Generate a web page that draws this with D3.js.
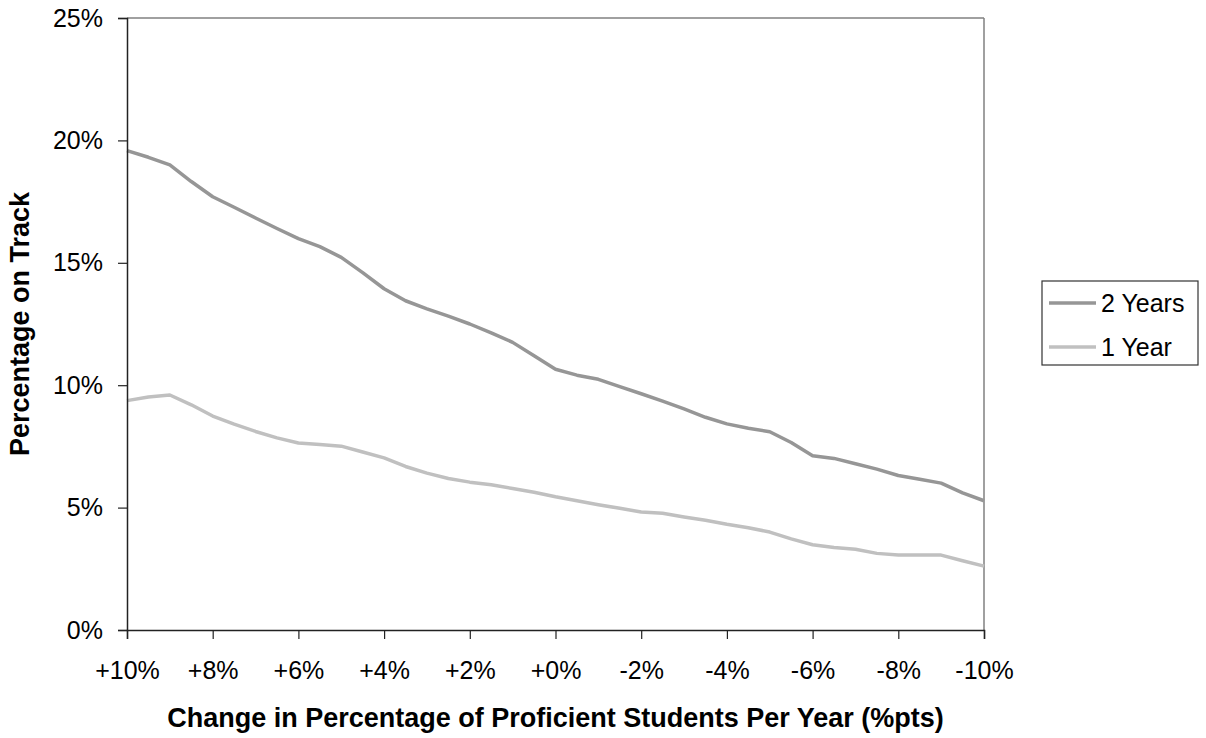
<!DOCTYPE html>
<html>
<head>
<meta charset="utf-8">
<script src="https://cdn.jsdelivr.net/npm/d3@7"></script>
<style>
  html, body { margin: 0; padding: 0; background: #fff; }
  svg { display: block; font-family: "Liberation Sans", Arial, sans-serif; }
</style>
</head>
<body>
<svg id="chart" width="1206" height="738"></svg>
<script>
// ---- data ----
const xValues = [10, 9.5, 9, 8.5, 8, 7.5, 7, 6.5, 6, 5.5, 5, 4.5, 4, 3.5, 3, 2.5, 2, 1.5, 1, 0.5, 0,
  -0.5, -1, -1.5, -2, -2.5, -3, -3.5, -4, -4.5, -5, -5.5, -6, -6.5, -7, -7.5, -8, -8.5, -9, -9.5, -10];
const twoYears = [19.58, 19.31, 19.0, 18.32, 17.7, 17.27, 16.83, 16.4, 15.99, 15.66, 15.22, 14.6, 13.94, 13.45,
  13.12, 12.82, 12.5, 12.14, 11.75, 11.2, 10.65, 10.41, 10.24, 9.94, 9.65, 9.35, 9.03, 8.69, 8.42, 8.24,
  8.10, 7.66, 7.12, 7.01, 6.79, 6.57, 6.31, 6.16, 6.0, 5.6, 5.28];
const oneYear = [9.37, 9.52, 9.6, 9.2, 8.74, 8.41, 8.11, 7.85, 7.64, 7.58, 7.51, 7.27, 7.03, 6.68, 6.41, 6.19,
  6.04, 5.93, 5.78, 5.63, 5.44, 5.28, 5.12, 4.97, 4.82, 4.77, 4.62, 4.48, 4.32, 4.18, 4.0, 3.72, 3.48,
  3.37, 3.30, 3.13, 3.06, 3.06, 3.06, 2.83, 2.61];
const seriesNames = ["2 Years", "1 Year"];
const xTicks = [10, 8, 6, 4, 2, 0, -2, -4, -6, -8, -10];
const xTickLabels = ["+10%", "+8%", "+6%", "+4%", "+2%", "+0%", "-2%", "-4%", "-6%", "-8%", "-10%"];
const yTicks = [0, 5, 10, 15, 20, 25];
const yTickLabels = ["0%", "5%", "10%", "15%", "20%", "25%"];
const xTitle = "Change in Percentage of Proficient Students Per Year (%pts)";
const yTitle = "Percentage on Track";

// ---- layout ----
const L = 127, R = 984, T = 18, B = 630;
const colors = ["#969696", "#c0c0c0"];
const svg = d3.select("#chart");

const x = d3.scaleLinear().domain([10, -10]).range([L, R]);
const y = d3.scaleLinear().domain([0, 25]).range([B, T]);

// plot border (top & right gray)
svg.append("line").attr("x1", L).attr("x2", R).attr("y1", T).attr("y2", T)
  .attr("stroke", "#808080").attr("stroke-width", 1.5);
svg.append("line").attr("x1", R).attr("x2", R).attr("y1", T).attr("y2", B)
  .attr("stroke", "#808080").attr("stroke-width", 1.5);

// lines
const series = [twoYears, oneYear];
const lineGen = d3.line().x((d, i) => x(xValues[i])).y(d => y(d));
series.forEach((s, k) => {
  svg.append("path").datum(s).attr("d", lineGen)
    .attr("fill", "none").attr("stroke", colors[k]).attr("stroke-width", 3.5)
    .attr("stroke-linejoin", "round");
});

// axes
const xAxis = d3.axisBottom(x).tickValues(xTicks).tickSize(9).tickPadding(22)
  .tickFormat((d, i) => xTickLabels[i]);
const gx = svg.append("g").attr("transform", `translate(0,${B})`).call(xAxis);
gx.select(".domain").attr("stroke", "#222").attr("stroke-width", 1.5);
gx.selectAll(".tick line").attr("stroke", "#222").attr("stroke-width", 1.2);
gx.selectAll("text").attr("font-size", 25).attr("fill", "#000")
  .attr("font-family", "Liberation Sans, Arial, sans-serif");

const yAxis = d3.axisLeft(y).tickValues(yTicks).tickSize(9).tickPadding(15)
  .tickFormat((d, i) => yTickLabels[i]);
const gy = svg.append("g").attr("transform", `translate(${L},0)`).call(yAxis);
gy.select(".domain").attr("stroke", "#222").attr("stroke-width", 1.5);
gy.selectAll(".tick line").attr("stroke", "#222").attr("stroke-width", 1.2);
gy.selectAll("text").attr("font-size", 25).attr("fill", "#000")
  .attr("font-family", "Liberation Sans, Arial, sans-serif");

// axis titles
svg.append("text").attr("x", (L + R) / 2).attr("y", 727).attr("text-anchor", "middle")
  .attr("font-size", 27).attr("font-weight", "bold").text(xTitle);
svg.append("text").attr("transform", `translate(29,${(T + B) / 2}) rotate(-90)`)
  .attr("text-anchor", "middle").attr("font-size", 27).attr("font-weight", "bold").text(yTitle);

// legend
const lg = svg.append("g");
lg.append("rect").attr("x", 1042).attr("y", 281).attr("width", 156).attr("height", 84)
  .attr("fill", "#fff").attr("stroke", "#333").attr("stroke-width", 1.2);
seriesNames.forEach((name, k) => {
  const cy = 303 + k * 44;
  lg.append("line").attr("x1", 1049).attr("x2", 1096).attr("y1", cy).attr("y2", cy)
    .attr("stroke", colors[k]).attr("stroke-width", 3.5);
  lg.append("text").attr("x", 1101).attr("y", cy).attr("dy", "0.36em")
    .attr("font-size", 25).text(name);
});
</script>
</body>
</html>
